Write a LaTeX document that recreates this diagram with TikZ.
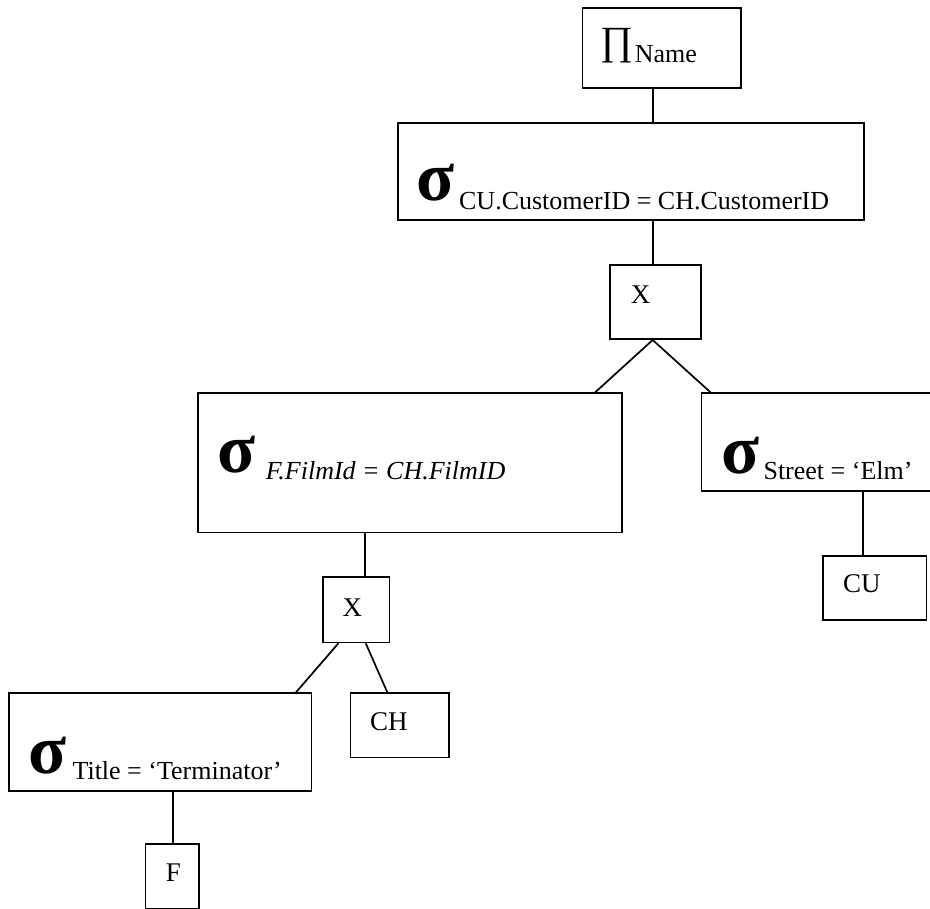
\documentclass[tikz,border=0pt]{standalone}
\usepackage{fontspec}
\setmainfont{Liberation Serif}

\begin{document}
\begin{tikzpicture}[x=1pt,y=-1pt,line width=1.7pt,
  box/.style={draw,inner sep=0pt,anchor=north west},
  lbl/.style={inner sep=0pt,anchor=base west,font=\fontsize{26}{30}\selectfont},
  tag/.style={inner sep=0pt,anchor=base west,font=\fontsize{27}{30}\selectfont},
  sig/.style={inner sep=0pt,anchor=base west,font=\fontsize{70}{70}\selectfont\bfseries}]
\useasboundingbox (0,0) rectangle (930,909);
% projection
\node[box,minimum width=158.3,minimum height=80] (pi) at (581.7,7.3) {};
\node[lbl,font=\fontsize{40}{40}\selectfont] (pisym) at (600,54.5) {∏};
\node[lbl] (piname) at (634,62.3) {Name};
% join condition
\node[box,minimum width=465.7,minimum height=96.7] (sigcu) at (397.3,122.3) {};
\node[sig] (sigcus) at (416,200.7) {σ};
\node[lbl] (sigcut) at (458.3,210) {CU.CustomerID = CH.CustomerID};
\node[box,minimum width=90.7,minimum height=74] (xtop) at (609.3,264.3) {};
\node[tag] (xtopt) at (630,303.3) {X};
% left branch
\node[box,minimum width=424.3,minimum height=139.2] (sigf) at (197,392.5) {};
\node[sig] (sigfs) at (217,473) {σ};
\node[lbl,font=\fontsize{26}{30}\selectfont\itshape] (sigft) at (265,479.3) {F.FilmId = CH.FilmID};
\node[box,minimum width=66.7,minimum height=65.5] (xbot) at (322,576) {};
\node[tag] (xbott) at (341.7,616) {X};
\node[box,minimum width=98.6,minimum height=64.4] (ch) at (349.7,692.3) {};
\node[tag] (cht) at (369.3,730.7) {CH};
\node[box,minimum width=302.7,minimum height=98] (sigt) at (8,692.3) {};
\node[sig] (sigts) at (28,773) {σ};
\node[lbl] (sigtt) at (71.7,779) {Title = ‘Terminator’};
\node[box,minimum width=53.6,minimum height=65] (f) at (144.7,843.3) {};
\node[tag] (ft) at (165,881.7) {F};
% right branch
\node[box,minimum width=260,minimum height=97.5] (sigst) at (700.7,392.5) {};
\node[sig] (sigsts) at (721,474) {σ};
\node[lbl] (sigstt) at (762.7,479.3) {Street = ‘Elm’};
\node[box,minimum width=103.4,minimum height=64.3] (cu) at (822.3,555) {};
\node[tag] (cut) at (842.3,592.7) {CU};
% connectors
\coordinate (spine) at (652.7,0);
\coordinate (leftfoot) at (595,0);
\coordinate (rightfoot) at (710.7,0);
\coordinate (stemf) at (365,0);
\coordinate (stemst) at (863.3,0);
\coordinate (stemt) at (173.3,0);
\coordinate (xbl) at (338.5,0);
\coordinate (xbr) at (365.7,0);
\coordinate (tfoot) at (296,0);
\coordinate (chfoot) at (387.3,0);
\draw (pi.south -| spine) -- (sigcu.north -| spine);
\draw (sigcu.south -| spine) -- (xtop.north -| spine);
\draw (xtop.south -| spine) -- (sigf.north -| leftfoot);
\draw (xtop.south -| spine) -- (sigst.north -| rightfoot);
\draw (sigf.south -| stemf) -- (xbot.north -| stemf);
\draw (sigst.south -| stemst) -- (cu.north -| stemst);
\draw (xbot.south -| xbl) -- (sigt.north -| tfoot);
\draw (xbot.south -| xbr) -- (ch.north -| chfoot);
\draw (sigt.south -| stemt) -- (f.north -| stemt);
\end{tikzpicture}
\end{document}
